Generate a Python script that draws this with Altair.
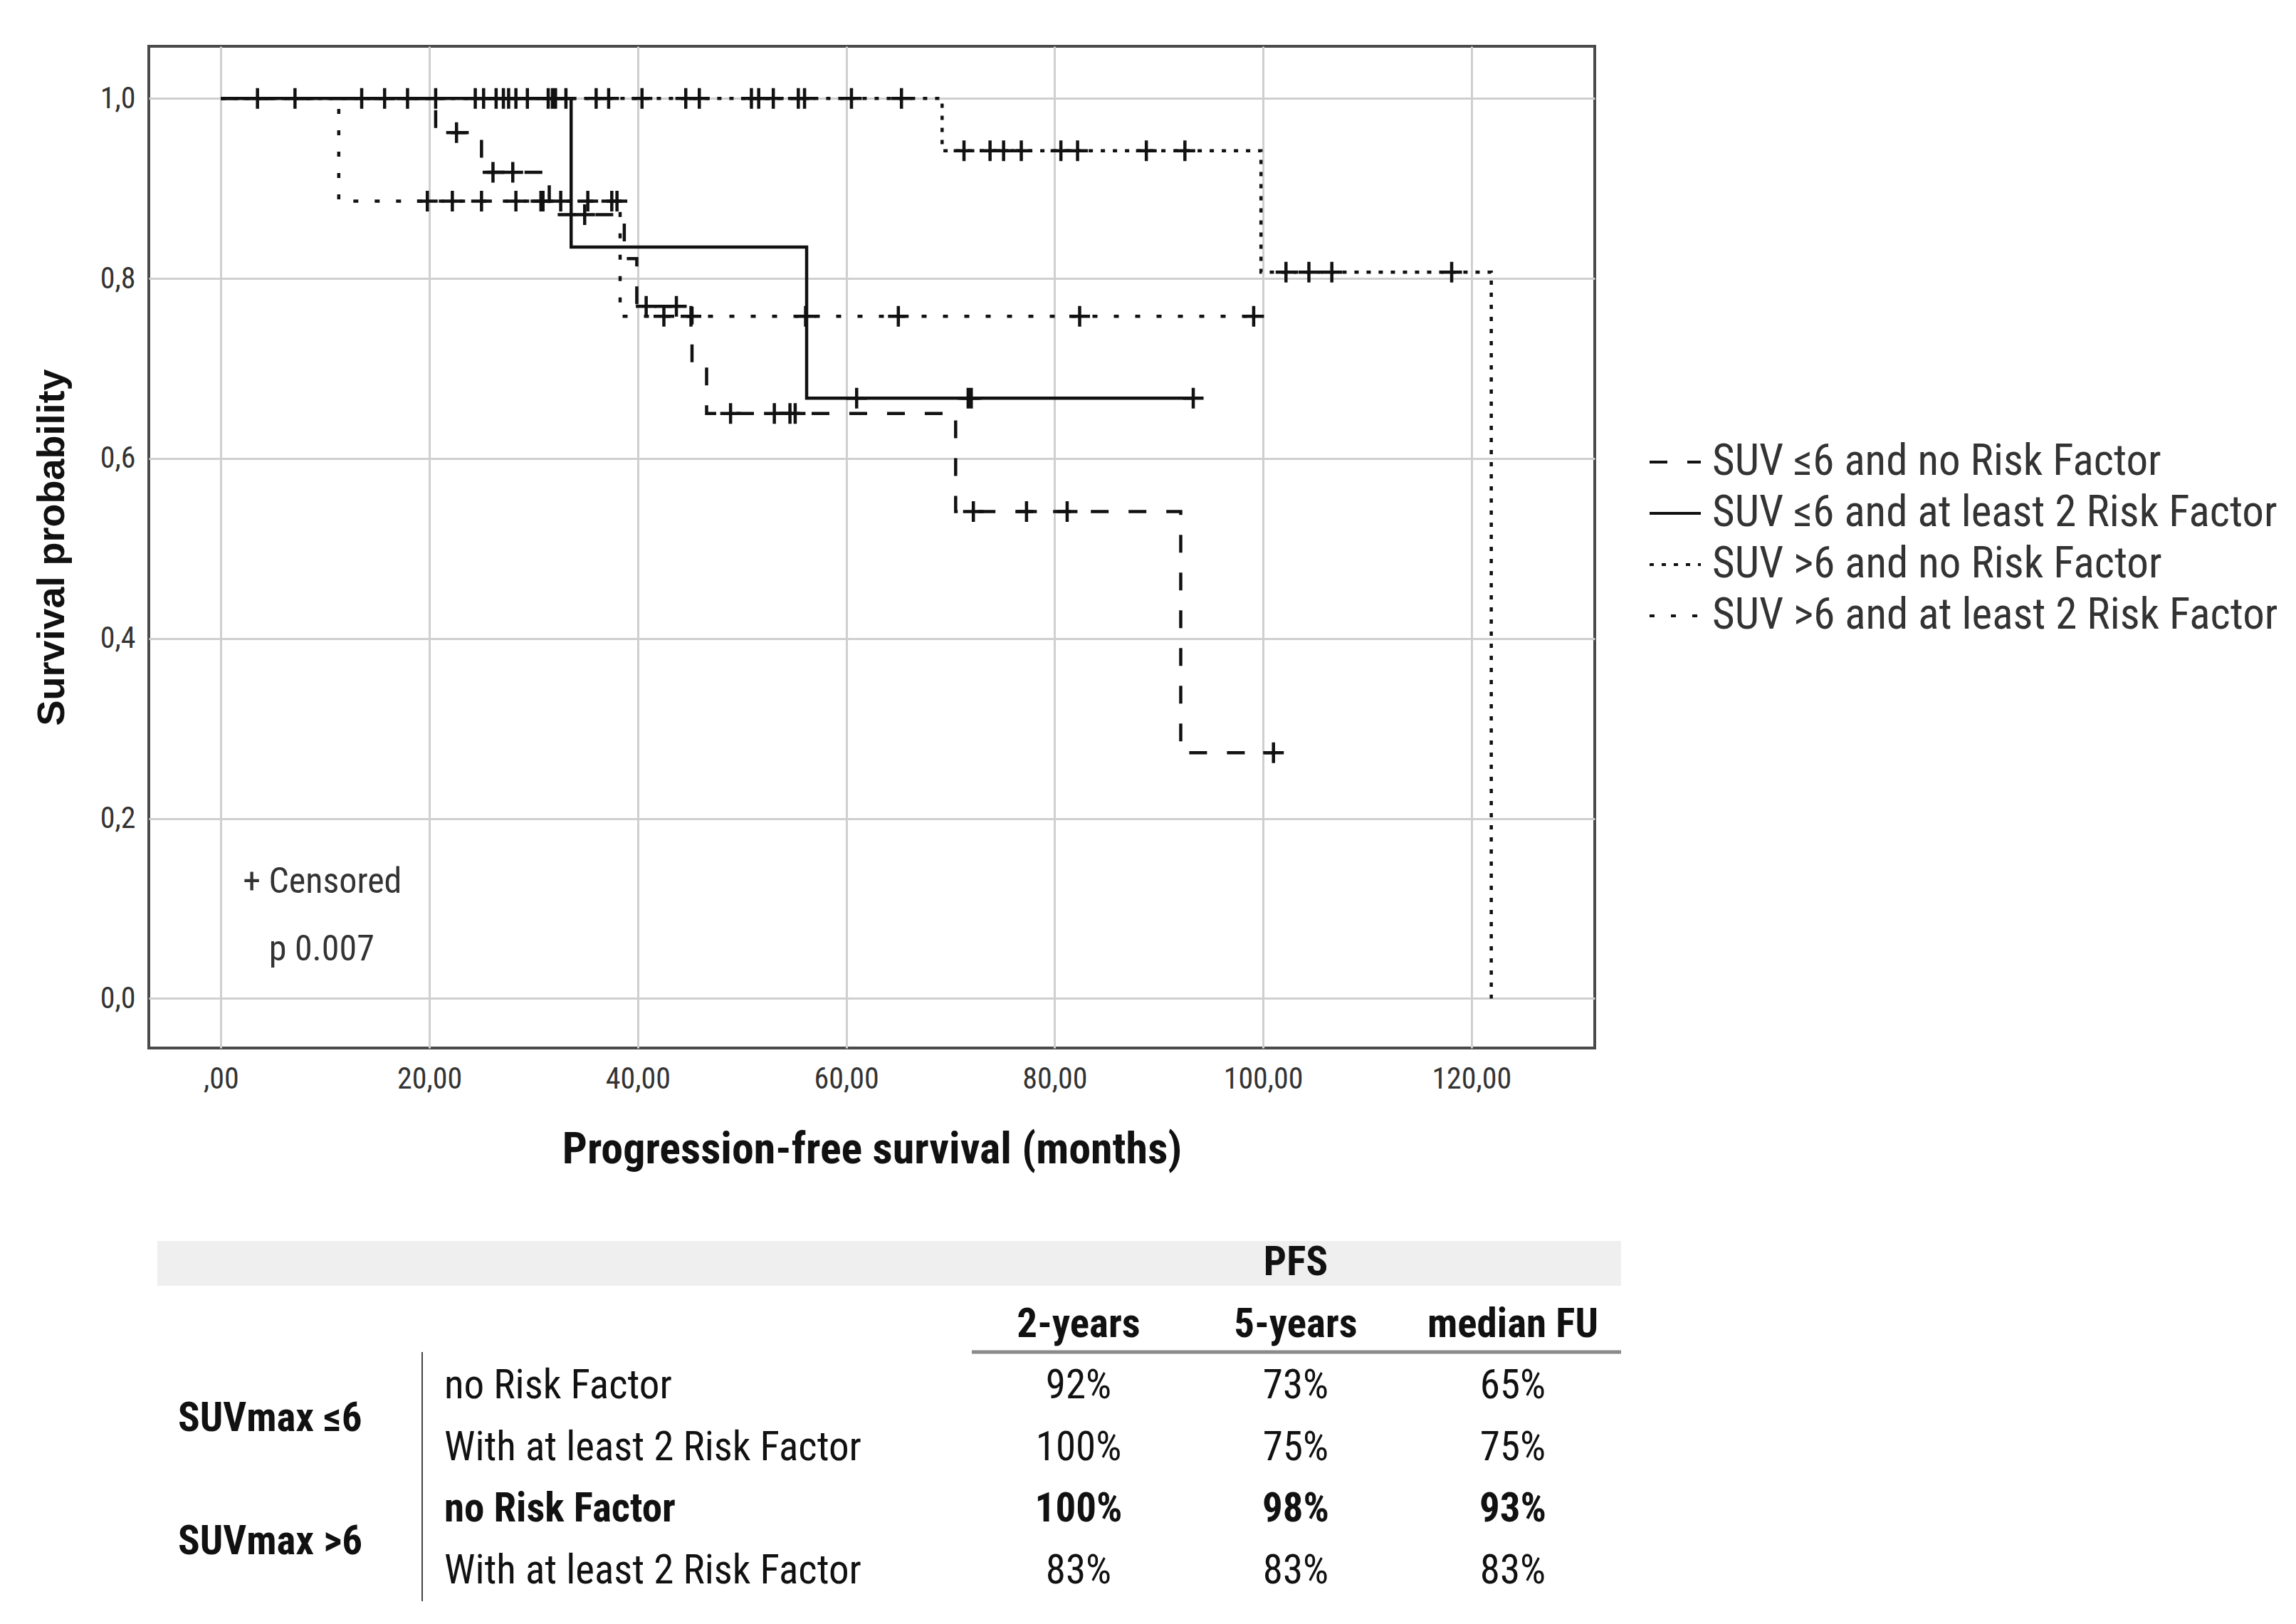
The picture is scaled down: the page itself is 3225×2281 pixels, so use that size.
import altair as alt
import pandas as pd

FN = "Liberation Sans Narrow, Roboto Condensed, DejaVu Sans Condensed, Liberation Sans, sans-serif"
FW = "Liberation Sans, Arial, sans-serif"

SERIES = ["SUV ≤6 and no Risk Factor", "SUV ≤6 and at least 2 Risk Factor",
          "SUV >6 and no Risk Factor", "SUV >6 and at least 2 Risk Factor"]

# ---- Kaplan-Meier step curves (months, survival) ----
s1_t = [0, 20.6, 25.0, 31.5, 38.7, 39.9, 45.2, 46.6, 70.5, 92.1, 101.0]
s1_s = [1.0, 0.962, 0.918, 0.871, 0.822, 0.769, 0.706, 0.650, 0.541, 0.273, 0.273]
s2_t = [0, 33.6, 56.2, 93.3]
s2_s = [1.0, 0.835, 0.667, 0.667]
s3_t = [0, 69.2, 99.8, 121.9]
s3_s = [1.0, 0.942, 0.807, 0.0]
s4_t = [0, 11.3, 38.3, 99.1]
s4_s = [1.0, 0.886, 0.758, 0.758]

# ---- censored observations ----
c1_t = [22.6, 26.1, 28.0, 34.9, 40.8, 43.7, 48.9, 53.1, 54.6, 55.1, 72.2, 77.3, 81.2, 101.0]
c1_s = [0.962, 0.918, 0.918, 0.871, 0.769, 0.769, 0.650, 0.650, 0.650, 0.650, 0.541, 0.541, 0.541, 0.273]
c2_t = [3.5, 13.5, 17.9, 25.2, 27.1, 28.3, 31.4, 32.1, 61.0, 71.7, 72.0, 93.3]
c2_s = [1.0, 1.0, 1.0, 1.0, 1.0, 1.0, 1.0, 1.0, 0.667, 0.667, 0.667, 0.667]
c3_t = [7.1, 15.7, 20.6, 24.4, 26.4, 27.6, 29.4, 31.8, 33.1, 36.0, 37.2, 40.4, 44.6, 45.9,
        50.9, 51.6, 53.0, 55.4, 56.0, 60.5, 65.3,
        71.3, 73.8, 75.1, 76.8, 80.6, 82.2, 88.8, 92.5,
        102.2, 104.4, 106.6, 118.1]
c3_s = [1.0, 1.0, 1.0, 1.0, 1.0, 1.0, 1.0, 1.0, 1.0, 1.0, 1.0, 1.0, 1.0, 1.0,
        1.0, 1.0, 1.0, 1.0, 1.0, 1.0, 1.0,
        0.942, 0.942, 0.942, 0.942, 0.942, 0.942, 0.942, 0.942,
        0.807, 0.807, 0.807, 0.807]
c4_t = [19.8, 22.2, 25.0, 28.3, 30.7, 30.9, 32.6, 35.2, 37.5, 38.0,
        42.5, 45.1, 56.1, 65.0, 82.4, 99.1]
c4_s = [0.886, 0.886, 0.886, 0.886, 0.886, 0.886, 0.886, 0.886, 0.886, 0.886,
        0.758, 0.758, 0.758, 0.758, 0.758, 0.758]

X_TICKS = [0, 20, 40, 60, 80, 100, 120]
Y_TICKS = [0.0, 0.2, 0.4, 0.6, 0.8, 1.0]

ann_txt = ["+ Censored", "p 0.007"]
ann_t = [2.1, 4.6]
ann_s = [0.129, 0.054]

# ---- table ----
TBL_ROWS = ["PFS", "header", "r1", "r2", "r3", "r4"]
COLS = ["2-years", "5-years", "median FU"]
groups = ["SUVmax ≤6", "SUVmax >6"]
group_rows = ["r1", "r3"]
row_labels = ["no Risk Factor", "With at least 2 Risk Factor", "no Risk Factor", "With at least 2 Risk Factor"]
pfs_2y = ["92%", "100%", "100%", "83%"]
pfs_5y = ["73%", "75%", "98%", "83%"]
median_fu = ["65%", "75%", "93%", "83%"]
bold_row = "r3"

# ---- build frames ----
lines = []
for name, ts, ss in zip(SERIES, [s1_t, s2_t, s3_t, s4_t], [s1_s, s2_s, s3_s, s4_s]):
    for t, s in zip(ts, ss):
        lines.append({"series": name, "t": t, "s": s})
df_lines = pd.DataFrame(lines)

cens = []
for name, ts, ss in zip(SERIES, [c1_t, c2_t, c3_t, c4_t], [c1_s, c2_s, c3_s, c4_s]):
    for t, s in zip(ts, ss):
        cens.append({"series": name, "t": t, "s": s})
df_cens = pd.DataFrame(cens)

df_ann = pd.DataFrame({"t": ann_t, "s": ann_s, "txt": ann_txt})

cells = []
for i, r in enumerate(["r1", "r2", "r3", "r4"]):
    for c, vals in zip(COLS, [pfs_2y, pfs_5y, median_fu]):
        cells.append({"row": r, "col": c, "val": vals[i], "bold": r == bold_row})
df_cells = pd.DataFrame(cells)
df_head = pd.DataFrame({"row": ["header"] * 3, "col": COLS, "val": COLS})
df_pfs = pd.DataFrame({"row": ["PFS"], "col": ["5-years"], "val": ["PFS"]})
df_rowlab = pd.DataFrame({"row": ["r1", "r2", "r3", "r4"], "val": row_labels,
                          "bold": [r == bold_row for r in ["r1", "r2", "r3", "r4"]]})
df_groups = pd.DataFrame({"row": group_rows, "val": groups})
dummy = pd.DataFrame({"k": [0]})

# ---- scales ----
x_scale = alt.Scale(domain=[-6.93, 131.83], nice=False, zero=False)
y_scale = alt.Scale(domain=[-0.055, 1.058], nice=False, zero=False)
dash_scale = alt.Scale(domain=SERIES, range=[[25, 28], [1, 0], [6, 11], [7, 23]])

x_axis = alt.Axis(
    values=X_TICKS,
    labelExpr="datum.value == 0 ? ',00' : replace(format(datum.value, '.2f'), '.', ',')",
    title="Progression-free survival (months)",
    titleFont=FN, titleFontSize=62, titleFontWeight="bold", titleColor="#111",
    titleY=142, titleBaseline="middle",
    labelFont=FN, labelFontSize=42, labelColor="#333", labelPadding=43, labelBaseline="middle",
    ticks=False, tickSize=0, domain=False,
    grid=True, gridColor="#cfcfcf", gridWidth=3,
)
y_axis = alt.Axis(
    values=Y_TICKS,
    labelExpr="replace(format(datum.value, '.1f'), '.', ',')",
    title="Survival probability",
    titleFont=FW, titleFontSize=54, titleFontWeight="bold", titleColor="#111",
    titleX=-136, titleBaseline="middle", titleAlign="center",
    labelFont=FN, labelFontSize=42, labelColor="#333", labelPadding=19,
    ticks=False, tickSize=0, domain=False,
    grid=True, gridColor="#cfcfcf", gridWidth=3,
)

legend = alt.Legend(
    title=None, orient="none", legendX=2106, legendY=546, direction="vertical",
    symbolType="stroke", symbolSize=5184, symbolStrokeWidth=4, symbolStrokeColor="#111",
    labelFont=FN, labelFontSize=61, labelColor="#333", labelLimit=1500, labelOffset=14,
    rowPadding=4,
)

km_lines = alt.Chart(df_lines).mark_line(interpolate="step-after", strokeWidth=4.5, color="#111").encode(
    x=alt.X("t:Q", scale=x_scale, axis=x_axis),
    y=alt.Y("s:Q", scale=y_scale, axis=y_axis),
    strokeDash=alt.StrokeDash("series:N", scale=dash_scale, legend=legend, sort=SERIES),
)

km_cens = alt.Chart(df_cens).mark_point(
    shape="M-1,0L1,0M0,-1L0,1", size=841, filled=False, strokeWidth=4.5, color="#111", opacity=1
).encode(
    x=alt.X("t:Q", scale=x_scale),
    y=alt.Y("s:Q", scale=y_scale),
)

km_ann = alt.Chart(df_ann).mark_text(align="left", baseline="middle", font=FN, fontSize=50, color="#333").encode(
    x=alt.X("t:Q", scale=x_scale),
    y=alt.Y("s:Q", scale=y_scale),
    text="txt:N",
)

km = alt.layer(km_lines, km_cens, km_ann)

# ---- table (drawn below the plot area) ----
row_scale = alt.Scale(domain=TBL_ROWS, range=[1709, 2142], padding=0)
col_scale = alt.Scale(domain=COLS, range=[1306, 1916], padding=0)

band = alt.Chart(dummy).mark_rect(color="#efefef").encode(
    x=alt.value(12), x2=alt.value(2068), y=alt.value(1678), y2=alt.value(1741))
underline = alt.Chart(dummy).mark_rule(color="#8a8a8a", strokeWidth=5).encode(
    x=alt.value(1156), x2=alt.value(2068), y=alt.value(1834))
vline = alt.Chart(dummy).mark_rule(color="#444", strokeWidth=2).encode(
    x=alt.value(384), y=alt.value(1834), y2=alt.value(2184))

tfont = dict(font=FN, fontSize=57, color="#111", baseline="middle")

pfs_txt = alt.Chart(df_pfs).mark_text(align="center", fontWeight="bold", **tfont).encode(
    x=alt.X("col:N", scale=col_scale, axis=None),
    y=alt.Y("row:O", scale=row_scale, axis=None), text="val:N")
head_txt = alt.Chart(df_head).mark_text(align="center", fontWeight="bold", **tfont).encode(
    x=alt.X("col:N", scale=col_scale, axis=None),
    y=alt.Y("row:O", scale=row_scale, axis=None), text="val:N")
cell_norm = alt.Chart(df_cells).transform_filter("!datum.bold").mark_text(align="center", **tfont).encode(
    x=alt.X("col:N", scale=col_scale, axis=None),
    y=alt.Y("row:O", scale=row_scale, axis=None), text="val:N")
cell_bold = alt.Chart(df_cells).transform_filter("datum.bold").mark_text(align="center", fontWeight="bold", **tfont).encode(
    x=alt.X("col:N", scale=col_scale, axis=None),
    y=alt.Y("row:O", scale=row_scale, axis=None), text="val:N")
lab_norm = alt.Chart(df_rowlab).transform_filter("!datum.bold").mark_text(align="left", **tfont).encode(
    x=alt.value(415), y=alt.Y("row:O", scale=row_scale, axis=None), text="val:N")
lab_bold = alt.Chart(df_rowlab).transform_filter("datum.bold").mark_text(align="left", fontWeight="bold", **tfont).encode(
    x=alt.value(415), y=alt.Y("row:O", scale=row_scale, axis=None), text="val:N")
grp_txt = alt.Chart(df_groups).mark_text(align="left", fontWeight="bold", dy=46, **tfont).encode(
    x=alt.value(41), y=alt.Y("row:O", scale=row_scale, axis=None), text="val:N")

table = alt.layer(band, underline, vline, pfs_txt, head_txt, cell_norm, cell_bold, lab_norm, lab_bold, grp_txt)

chart = alt.layer(km, table).resolve_scale(x="independent", y="independent").properties(
    width=2031, height=1407,
    padding={"left": 38, "top": 57, "right": 4, "bottom": 4},
    background="white",
).configure_view(stroke="#4a4a4a", strokeWidth=4)

chart.save("out.html", embed_options={"renderer": "svg", "actions": False})
